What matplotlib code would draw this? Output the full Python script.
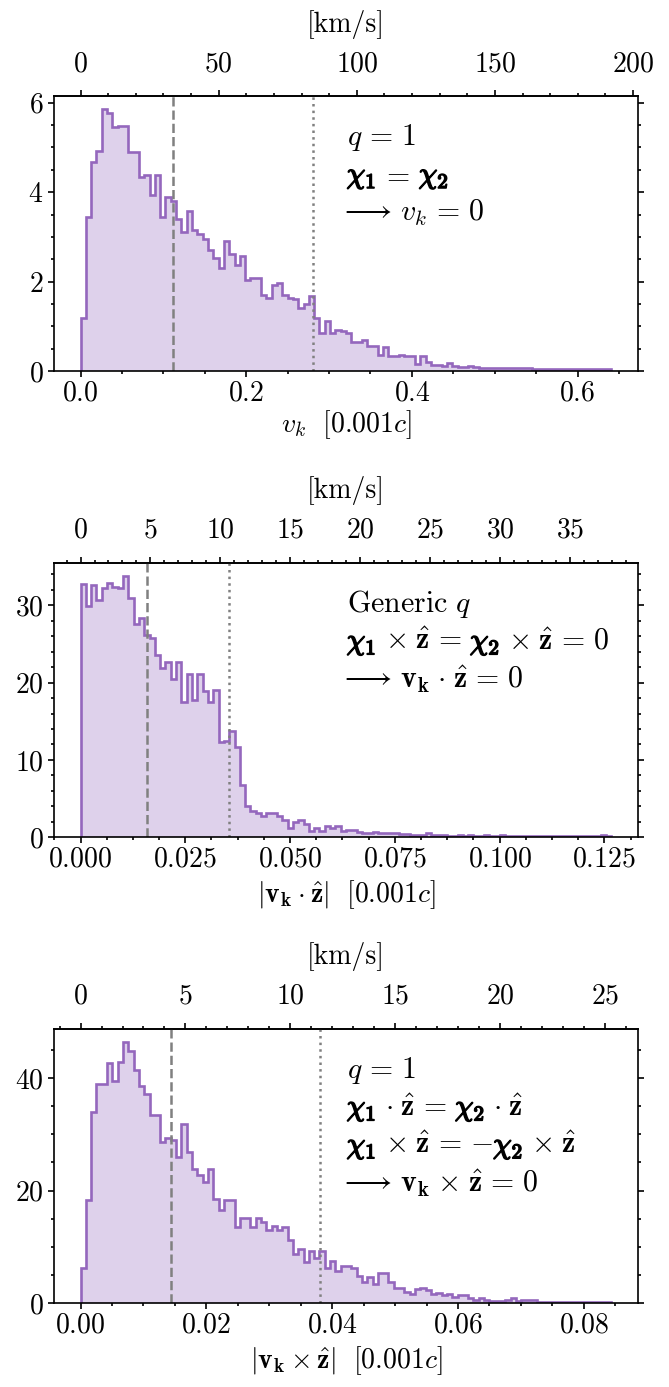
import numpy as np
import matplotlib
matplotlib.use("Agg")
import matplotlib.pyplot as plt
import matplotlib.patheffects as pe
from matplotlib.ticker import AutoMinorLocator, MultipleLocator, FixedLocator

plt.rcParams.update({
    "font.family": "serif",
    "font.serif": ["cmr10"],
    "mathtext.fontset": "cm",
    "axes.formatter.use_mathtext": True,
    "font.size": 20,
    "axes.linewidth": 1.2,
})

# 0.001c in km/s
KMS_PER_UNIT = 299.792458

# ---- panel 1: |v_k|, q=1, chi1 = chi2 (density, 100 bins from 0 to max)
vk_max = 0.641
vk_hist = [1.19, 3.45, 4.67, 4.93, 5.85, 5.78, 5.46, 5.48, 5.48, 4.90,
           4.90, 4.34, 4.39, 3.93, 4.38, 3.45, 3.89, 3.80, 3.41, 3.11,
           3.59, 3.15, 3.07, 2.95, 2.70, 2.53, 2.31, 2.90, 2.61, 2.37,
           2.57, 2.03, 2.08, 2.08, 1.70, 1.64, 1.92, 1.96, 1.71, 1.64,
           1.61, 1.41, 1.49, 1.68, 1.19, 0.86, 1.12, 0.86, 0.92, 0.89,
           0.86, 0.65, 0.64, 0.69, 0.57, 0.57, 0.36, 0.54, 0.34, 0.34,
           0.36, 0.34, 0.34, 0.15, 0.34, 0.21, 0.13, 0.13, 0.12, 0.17,
           0.12, 0.10, 0.10, 0.12, 0.10, 0.07, 0.06, 0.07, 0.07, 0.07,
           0.07, 0.07, 0.07, 0.07, 0.07, 0.04, 0.04, 0.04, 0.04, 0.04,
           0.04, 0.04, 0.04, 0.04, 0.04, 0.04, 0.04, 0.04, 0.04, 0.04]
vk_median, vk_p90 = 0.1117, 0.2811
vk_kms_ticks = [0, 50, 100, 150, 200]

# ---- panel 2: |v_k . z|, generic q
vz_max = 0.1267
vz_hist = [32.7, 29.9, 32.6, 30.7, 32.2, 32.9, 32.4, 32.2, 33.8, 30.9,
           27.6, 28.3, 26.1, 25.7, 23.6, 21.9, 22.7, 20.5, 22.7, 17.5,
           21.1, 17.7, 21.1, 18.9, 17.5, 19.0, 12.3, 12.5, 13.8, 11.7,
           6.8, 4.0, 3.4, 3.1, 2.8, 3.1, 3.1, 2.7, 2.2, 1.2,
           2.0, 2.2, 1.7, 0.8, 1.2, 0.8, 1.4, 1.2, 1.5, 0.8,
           0.9, 0.9, 0.7, 0.6, 0.6, 0.7, 0.5, 0.5, 0.6, 0.6,
           0.4, 0.4, 0.3, 0.3, 0.3, 0.5, 0.3, 0.3, 0.3, 0.2,
           0.2, 0.3, 0.2, 0.3, 0.2, 0.2, 0.3, 0.2, 0.2, 0.3,
           0.2, 0.2, 0.2, 0.2, 0.2, 0.2, 0.2, 0.2, 0.2, 0.2,
           0.2, 0.2, 0.2, 0.2, 0.2, 0.2, 0.2, 0.2, 0.3, 0.2]
vz_median, vz_p90 = 0.0158, 0.0354
vz_kms_ticks = [0, 5, 10, 15, 20, 25, 30, 35]

# ---- panel 3: |v_k x z|, q=1
vp_max = 0.0844
vp_hist = [6.3, 18.4, 34.0, 38.9, 38.9, 42.7, 39.5, 42.9, 46.4, 44.8,
           41.4, 38.6, 37.1, 33.4, 33.4, 28.6, 29.3, 28.9, 25.9, 31.8,
           26.8, 23.9, 22.8, 21.5, 23.8, 18.6, 16.5, 18.3, 18.3, 13.6,
           15.2, 15.2, 13.6, 15.2, 14.4, 13.1, 13.7, 13.1, 13.6, 11.2,
           8.7, 9.6, 7.4, 9.3, 8.0, 9.3, 6.3, 7.5, 5.7, 6.7,
           6.7, 6.2, 4.9, 3.8, 4.7, 3.5, 5.3, 5.3, 3.8, 2.7,
           2.7, 2.1, 1.6, 2.5, 2.8, 2.4, 1.6, 1.9, 1.4, 1.6,
           1.2, 1.4, 1.4, 0.9, 0.6, 0.9, 0.6, 0.4, 0.4, 0.4,
           0.6, 0.9, 0.4, 0.6, 0.6, 0.6, 0.3, 0.3, 0.3, 0.3,
           0.3, 0.3, 0.3, 0.3, 0.3, 0.3, 0.3, 0.3, 0.3, 0.3]
vp_median, vp_p90 = 0.0144, 0.0381
vp_kms_ticks = [0, 5, 10, 15, 20, 25]

xlabels = [r"$v_k\ \ [0.001c]$",
           r"$|\mathbf{v_k}\cdot\hat{\mathbf{z}}|\ \ [0.001c]$",
           r"$|\mathbf{v_k}\times\hat{\mathbf{z}}|\ \ [0.001c]$"]

CHI1 = r"\chi_{\mathbf{1}}"
CHI2 = r"\chi_{\mathbf{2}}"
ZHAT = r"\hat{\mathbf{z}}"
notes = [
    ["q=1",
     CHI1 + "=" + CHI2,
     r"\longrightarrow v_k=0"],
    [r"\mathrm{Generic}\ q",
     CHI1 + r"\times" + ZHAT + "=" + CHI2 + r"\times" + ZHAT + "=0",
     r"\longrightarrow \mathbf{v_k}\cdot" + ZHAT + "=0"],
    ["q=1",
     CHI1 + r"\cdot" + ZHAT + "=" + CHI2 + r"\cdot" + ZHAT,
     CHI1 + r"\times" + ZHAT + "={-}" + CHI2 + r"\times" + ZHAT,
     r"\longrightarrow \mathbf{v_k}\times" + ZHAT + "=0"],
]


def tex_spacing(s):
    # widen operator spacing a bit towards TeX's
    s = s.replace(r"\times", r"\hspace{0.08}\times\hspace{0.08}")
    s = s.replace(r"\cdot", r"\hspace{0.08}\cdot\hspace{0.08}")
    s = s.replace("=", r"\hspace{0.14}=\hspace{0.14}")
    s = s.replace(r"\longrightarrow", r"\longrightarrow\hspace{0.14}")
    return s


panels = [
    (vk_hist, vk_max, vk_median, vk_p90, 0.2, 4, 2, vk_kms_ticks),
    (vz_hist, vz_max, vz_median, vz_p90, 0.025, 4, 10, vz_kms_ticks),
    (vp_hist, vp_max, vp_median, vp_p90, 0.02, 4, 20, vp_kms_ticks),
]

fig = plt.figure(figsize=(6.69, 13.87), dpi=100)
renderer = fig.canvas.get_renderer()
bottoms = [0.7325, 0.3963, 0.0603]
BOLD = [pe.withStroke(linewidth=1.1, foreground="black")]
NOTE_FS = 21.5


def math_width(ax, s):
    tmp = ax.text(0, 0, "$" + s + "$", transform=ax.transAxes, fontsize=NOTE_FS)
    w = tmp.get_window_extent(renderer).width
    tmp.remove()
    return w


def draw_note(ax, x, y, body):
    # split the line so the chi vectors can be drawn bold (stroked)
    cuts = []
    for piece in (CHI1, CHI2):
        k = body.find(piece)
        if k >= 0:
            cuts.append((k, k + len(piece)))
    cuts.sort()
    segs, pos = [], 0
    for a, b in cuts:
        if a > pos:
            segs.append((pos, a, False))
        segs.append((a, b, True))
        pos = b
    if pos < len(body):
        segs.append((pos, len(body), False))

    axbox = ax.get_window_extent(renderer)
    total = math_width(ax, body)
    x_px = axbox.x0 + x * axbox.width
    for a, b, bold in segs:
        start = x_px + total - math_width(ax, body[a:])
        ax.text((start - axbox.x0) / axbox.width, y, "$" + body[a:b] + "$",
                transform=ax.transAxes, ha="left", va="baseline",
                fontsize=NOTE_FS, path_effects=BOLD if bold else None)


for i, (vals, vmax, med, p90, xmaj, xdiv, ymaj, kms_ticks) in enumerate(panels):
    ax = fig.add_axes([0.0807, bottoms[i], 0.873, 0.198])
    edges = np.linspace(0, vmax, len(vals) + 1)
    ax.stairs(vals, edges, fill=True, color="tab:purple", alpha=0.3, linewidth=0)
    ax.stairs(vals, edges, color="tab:purple", linewidth=1.9)
    ax.axvline(med, color="gray", ls="--", lw=1.8)
    ax.axvline(p90, color="gray", ls=":", lw=1.8)
    ax.set_xlim(-0.05 * vmax, 1.05 * vmax)
    ax.set_ylim(0, 1.05 * max(vals))
    ax.set_xlabel(xlabels[i], labelpad=1 if i == 0 else 4)

    ax.xaxis.set_major_locator(MultipleLocator(xmaj))
    ax.xaxis.set_minor_locator(AutoMinorLocator(xdiv))
    ax.yaxis.set_major_locator(MultipleLocator(ymaj))
    ax.yaxis.set_minor_locator(AutoMinorLocator())
    ax.tick_params(which="both", direction="out", right=True, width=1.2)
    ax.tick_params(which="major", length=4.5)
    ax.tick_params(which="minor", length=2.5)
    ax.tick_params(axis="x", which="major", pad=2)
    ax.tick_params(axis="y", which="major", pad=3)

    sec = ax.secondary_xaxis("top", functions=(lambda x: x * KMS_PER_UNIT,
                                                lambda v: v / KMS_PER_UNIT))
    sec.set_xlabel("[km/s]", labelpad=14)
    sec.xaxis.set_major_locator(FixedLocator(kms_ticks))
    sec.xaxis.set_minor_locator(AutoMinorLocator(5))
    sec.tick_params(which="both", direction="out", width=1.2)
    sec.tick_params(which="major", length=4.5, pad=9)
    sec.tick_params(which="minor", length=2.5)

    for j, line in enumerate(notes[i]):
        body = tex_spacing(line)
        x = 0.501
        if line.startswith(r"\longrightarrow"):
            x -= 0.013  # mathtext puts relation space before a leading arrow
        draw_note(ax, x, 0.822 - 0.138 * j, body)

fig.savefig("out.png", dpi=100)
